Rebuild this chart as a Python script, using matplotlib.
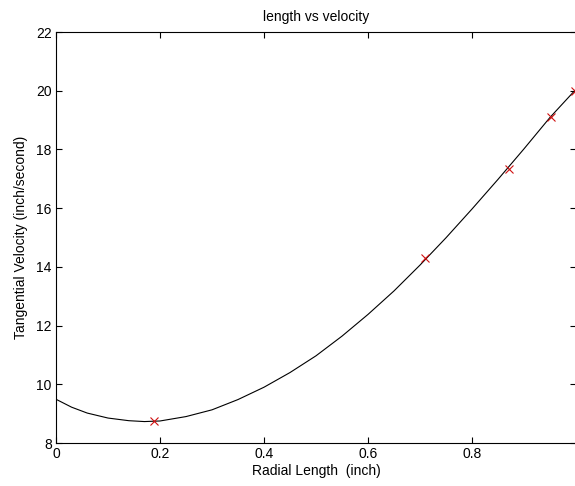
import matplotlib
matplotlib.use("Agg")
import matplotlib.pyplot as plt

plt.rcParams['font.family'] = ['Liberation Sans', 'DejaVu Sans']

# measured data points (red x markers)
data_x = [0.189, 0.710, 0.871, 0.951, 0.998]
data_y = [8.75, 14.29, 17.33, 19.09, 20.00]

# fitted curve
curve_x = [0.00, 0.03, 0.06, 0.10, 0.14, 0.17, 0.20, 0.25, 0.30, 0.35, 0.40, 0.45,
           0.50, 0.55, 0.60, 0.65, 0.70, 0.75, 0.80, 0.85, 0.90, 0.95, 1.00]
curve_y = [9.49, 9.22, 9.02, 8.85, 8.76, 8.73, 8.75, 8.90, 9.13, 9.48, 9.90, 10.40,
           10.97, 11.64, 12.38, 13.18, 14.06, 14.99, 15.97, 16.98, 18.02, 19.09, 20.05]

x_ticks = [0, 0.2, 0.4, 0.6, 0.8, 1]
x_tick_labels = ["0", "0.2", "0.4", "0.6", "0.8", ""]
y_ticks = [8, 10, 12, 14, 16, 18, 20, 22]

fig = plt.figure(figsize=(5.75, 4.86), dpi=100)
ax = fig.add_axes([56 / 575, (486 - 443) / 486, 520 / 575, 411 / 486])

ax.plot(curve_x, curve_y, color='black', linewidth=0.8)
ax.plot(data_x, data_y, linestyle='none', marker='x', color='#d01010',
        markersize=6, markeredgewidth=0.8, clip_on=False)

ax.set_xlim(0, 1)
ax.set_ylim(8, 22)
ax.set_xticks(x_ticks)
ax.set_xticklabels(x_tick_labels)
ax.set_yticks(y_ticks)
ax.tick_params(direction='in', top=True, right=True, length=4, width=0.8,
               labelsize=10, colors='black', pad=3)
for s in ax.spines.values():
    s.set_linewidth(0.8)
    s.set_color('black')

ax.set_title("length vs velocity", fontsize=10, pad=8)
ax.set_xlabel("Radial Length  (inch)", fontsize=10, labelpad=2)
ax.set_ylabel("Tangential Velocity (inch/second)", fontsize=10, labelpad=6)

fig.savefig("out.png", dpi=100)
